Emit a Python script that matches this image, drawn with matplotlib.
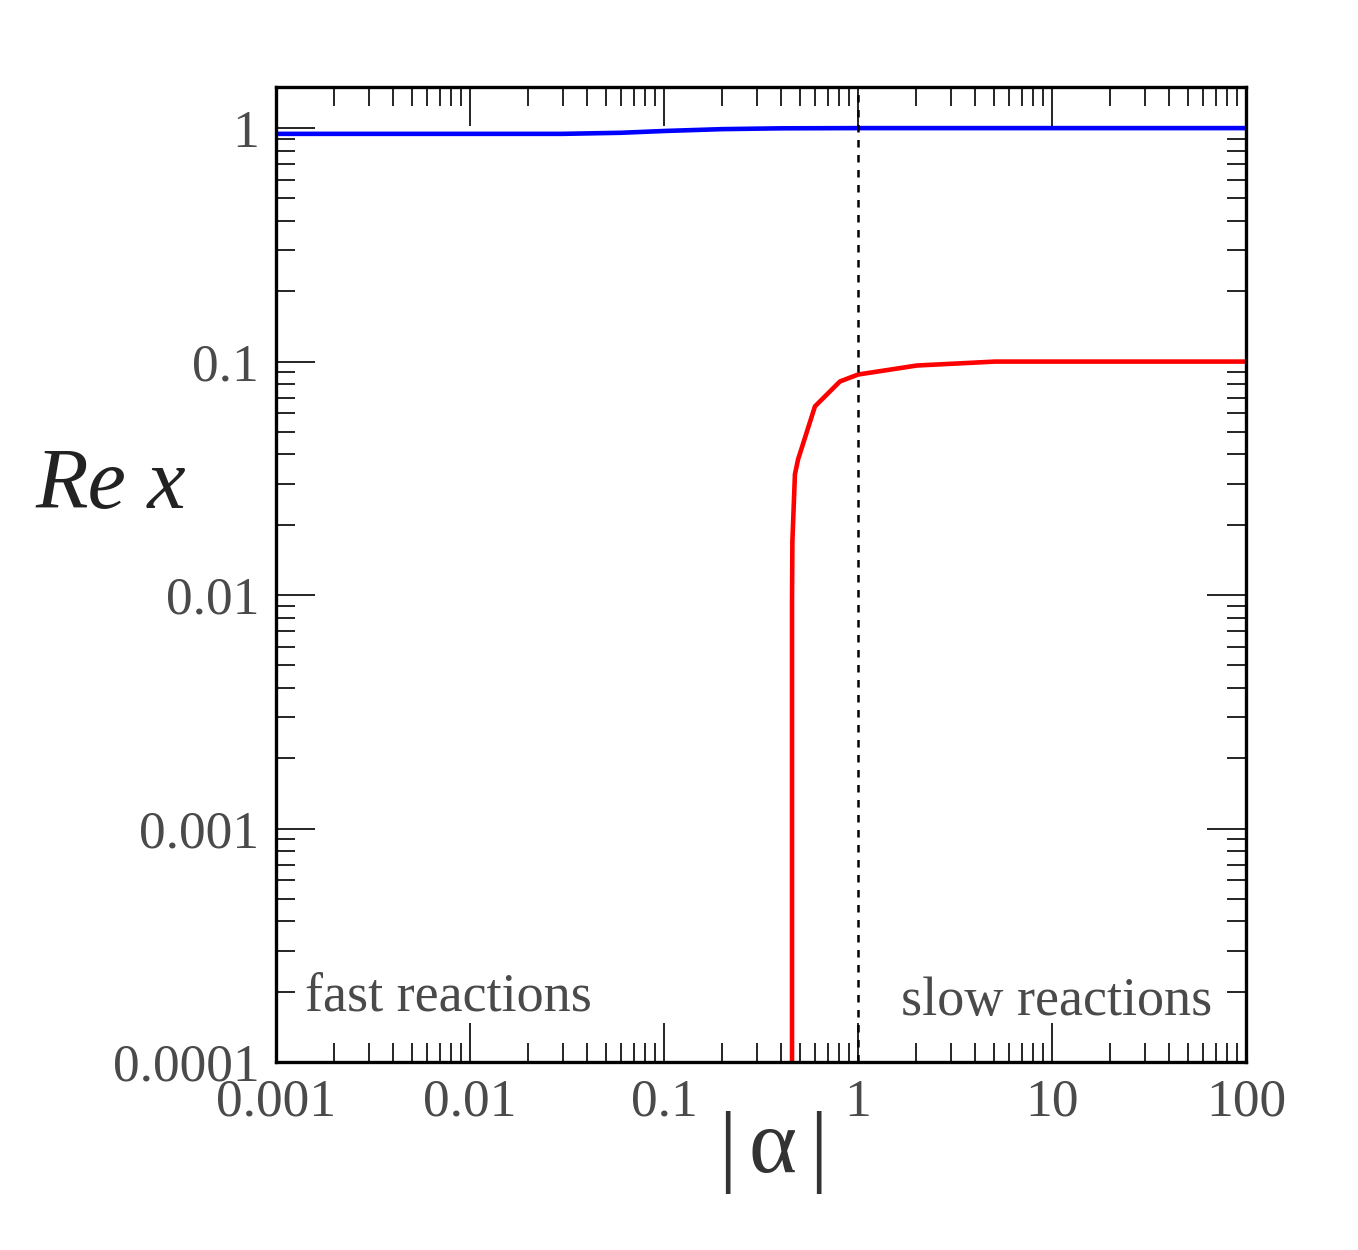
import matplotlib
matplotlib.use("Agg")
import matplotlib.pyplot as plt
from matplotlib.ticker import LogLocator, FixedLocator, NullFormatter, FixedFormatter

plt.rcParams['font.family'] = ['Liberation Serif', 'DejaVu Serif']

# blue branch
alpha_blue = [0.001, 0.03, 0.06, 0.1, 0.2, 0.4, 1.0, 10.0, 100.0]
rex_blue = [0.945, 0.945, 0.955, 0.972, 0.99, 0.998, 1.0, 1.0, 1.0]

# red branch
alpha_red = [0.457, 0.457, 0.459, 0.473, 0.491, 0.600, 0.807, 1.0, 2.01, 5.08, 100.0]
rex_red = [1e-4, 0.0094, 0.0170, 0.0329, 0.0381, 0.0643, 0.0822, 0.088, 0.0962, 0.1, 0.1]

xticks = [0.001, 0.01, 0.1, 1, 10, 100]
xticklabels = ['0.001', '0.01', '0.1', '1', '10', '100']
yticks = [0.0001, 0.001, 0.01, 0.1, 1]
yticklabels = ['0.0001', '0.001', '0.01', '0.1', '1']

gray = '#4a4a4a'

fig = plt.figure(figsize=(13.58, 12.5), dpi=100)
ax = fig.add_axes([276/1358, 1 - 1062/1250, 970/1358, 975/1250])

ax.plot(alpha_blue, rex_blue, color='#0000ff', lw=3.3)
ax.plot(alpha_red, rex_red, color='#ff0000', lw=3.3)
ax.axvline(1.0, color='black', lw=1.8, ls=(0, (3, 3)))

ax.set_xscale('log')
ax.set_yscale('log')
ax.set_xlim(0.001, 100)
ax.set_ylim(0.0001, 1.5)

ax.xaxis.set_major_locator(FixedLocator(xticks))
ax.xaxis.set_major_formatter(FixedFormatter(xticklabels))
ax.yaxis.set_major_locator(FixedLocator(yticks))
ax.yaxis.set_major_formatter(FixedFormatter(yticklabels))
ax.xaxis.set_minor_locator(LogLocator(base=10, subs=range(2, 10), numticks=20))
ax.yaxis.set_minor_locator(LogLocator(base=10, subs=range(2, 10), numticks=20))
ax.xaxis.set_minor_formatter(NullFormatter())
ax.yaxis.set_minor_formatter(NullFormatter())

ax.tick_params(which='both', direction='in', top=True, right=True, width=1.2, color='black')
ax.tick_params(which='major', length=28, labelsize=38.5, labelcolor=gray, pad=12)
ax.tick_params(which='minor', length=14)
for s in ax.spines.values():
    s.set_linewidth(2.4)

ax.text(0.030, 0.066, 'fast reactions', transform=ax.transAxes, fontsize=39,
        color=gray, ha='left', va='center')
ax.text(0.965, 0.062, 'slow reactions', transform=ax.transAxes, fontsize=39,
        color=gray, ha='right', va='center')

fig.text(111/1358, 1 - 487/1250, 'Re x', fontsize=62, style='italic',
         color='#222222', ha='center', va='center')
# |alpha| label: bars set wide apart as in the original
fig.text(727/1358, 1 - 1153/1250, '|', fontsize=66, color='#333333', ha='center', va='center')
fig.text(772/1358, 1 - 1150/1250, '\u03b1', fontsize=66, color='#333333', ha='center', va='center')
fig.text(818/1358, 1 - 1153/1250, '|', fontsize=66, color='#333333', ha='center', va='center')

fig.savefig('out.png', dpi=100)
